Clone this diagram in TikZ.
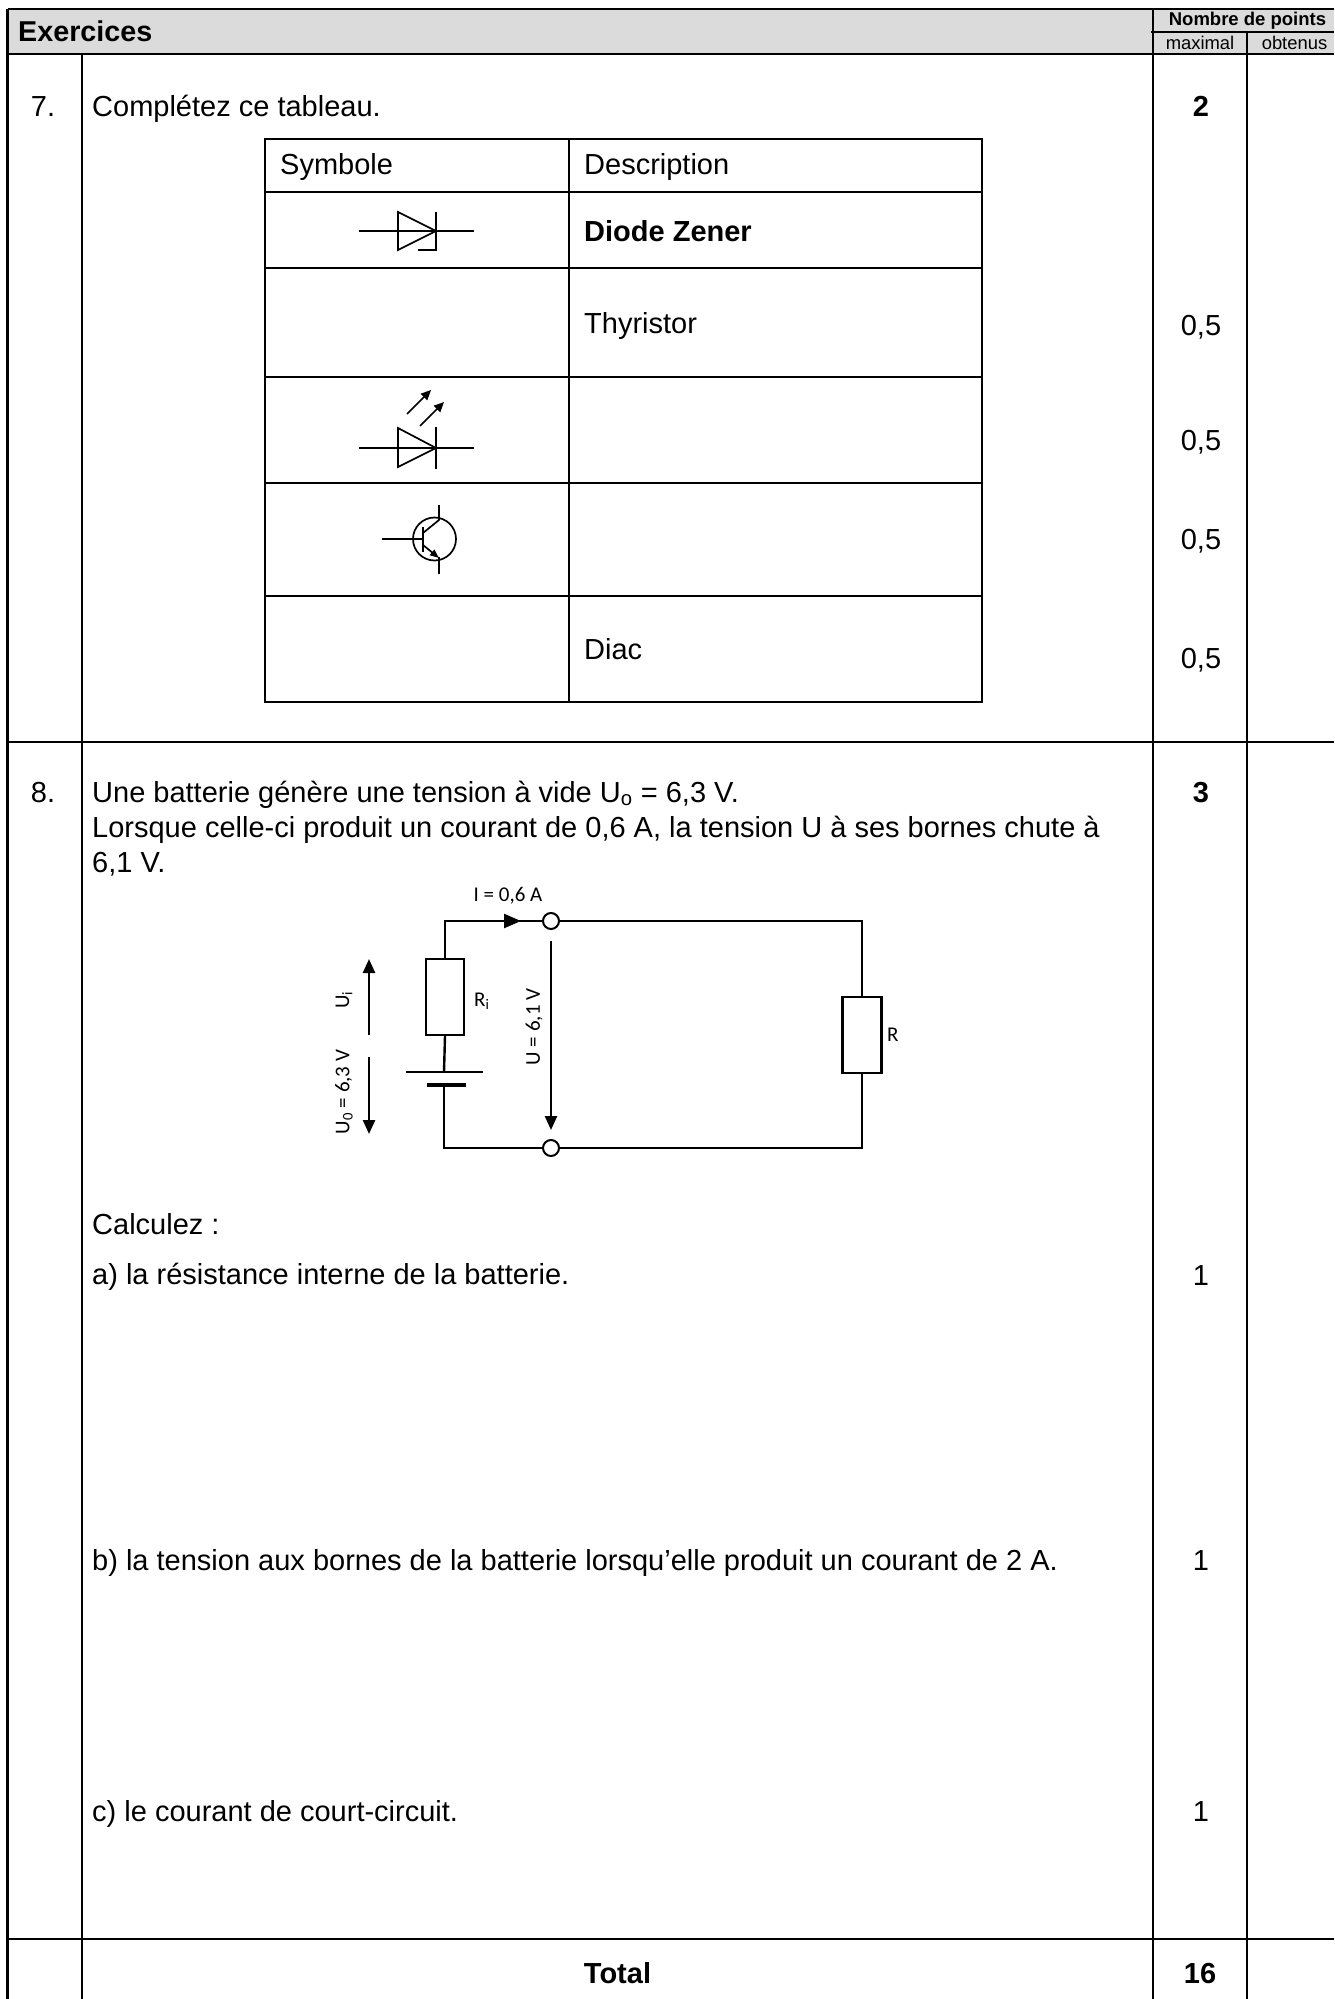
\documentclass[tikz,border=0pt]{standalone}
\usepackage{fontspec}
\setmainfont{Liberation Sans}
\newfontfamily\circfont{Carlito}
\usetikzlibrary{arrows.meta}
\begin{document}
\begin{tikzpicture}[x=1pt,y=-1pt,
  grid/.style={line width=2.6pt},
  tbl/.style={line width=2.3pt},
  sym/.style={line width=1.7pt},
  wire/.style={line width=2.4pt},
  txt/.style={font=\fontsize{29}{35}\selectfont, inner sep=0pt, anchor=base west},
  ctxt/.style={font=\fontsize{29}{35}\selectfont, inner sep=0pt, anchor=base},
  btxt/.style={font=\fontsize{29}{35}\selectfont\bfseries, inner sep=0pt, anchor=base},
  smalltxt/.style={font=\fontsize{18.4}{22}\selectfont, inner sep=0pt, anchor=base},
  ctext/.style={font=\circfont\fontsize{21}{25}\selectfont, inner sep=0pt},
  res/.style={draw, line width=2.4pt, fill=white, rectangle, inner sep=0pt},
  term/.style={draw, line width=2pt, fill=white, circle, minimum size=16pt, inner sep=0pt},
  bigarrow/.style={line width=2.4pt, -{Triangle[length=14pt,width=12pt]}},
  smallarrow/.style={line width=1.7pt, -{Triangle[length=10pt,width=9pt]}}
]
\useasboundingbox (0,0) rectangle (1334,1999);
% header
\fill[gray!28] (7.5,9) rectangle (1334,54);
\draw[grid] (7.5,9) -- (1334,9);
\draw[grid] (7.5,9) -- (7.5,1999);
\draw[grid] (82,54) -- (82,1999);
\draw[grid] (1153,9) -- (1153,1999);
\draw[grid] (1151,32) -- (1334,32);
\draw[grid] (1247,32) -- (1247,1999);
\draw[grid] (7.5,54) -- (1334,54);
\draw[grid] (7.5,742) -- (1334,742);
\draw[grid] (7.5,1939) -- (1334,1939);
\node[font=\fontsize{28.7}{34}\selectfont\bfseries, inner sep=0pt, anchor=base west] (hex) at (18,42) {Exercices};
\node[smalltxt, font=\fontsize{18.5}{22}\selectfont\bfseries] (hnp) at (1247.5,26) {Nombre de points};
\node[smalltxt] (hmax) at (1200,50) {maximal};
\node[smalltxt] (hobt) at (1294.5,50) {obtenus};

% exercise 7
\node[ctxt] (n7) at (43,117) {7.};
\node[txt] (q7) at (92,117) {Complétez ce tableau.};
\node[btxt] (p7) at (1201,117) {2};
\draw[tbl] (265,139) rectangle (982,702);
\draw[tbl] (569,139) -- (569,702);
\foreach \yy in {192,268,377,483,596} \draw[tbl] (265,\yy) -- (982,\yy);
\node[txt] (hsym) at (280,175) {Symbole};
\node[txt] (hdesc) at (584,175) {Description};
\node[txt, font=\fontsize{29}{35}\selectfont\bfseries] (dz) at (584,241) {Diode Zener};
\node[txt] (thy) at (584,333) {Thyristor};
\node[txt] (diac) at (584,659) {Diac};
\node[ctxt] (pa) at (1201,335) {0,5};
\node[ctxt] (pb) at (1201,450) {0,5};
\node[ctxt] (pc) at (1201,549) {0,5};
\node[ctxt] (pd) at (1201,668) {0,5};

% Zener symbol
\draw[sym] (359,231) -- (474,231);
\draw[sym] (398,212) -- (398,250) -- (436,231) -- cycle;
\draw[sym] (436,212) -- (436,250) -- (418,250);
% LED symbol
\draw[sym] (359,448) -- (474,448);
\draw[sym] (398,428) -- (398,467) -- (436,448) -- cycle;
\draw[sym] (436,427) -- (436,469);
\coordinate (la1) at (407,414); \coordinate (la2) at (431,390);
\coordinate (lb1) at (420,426); \coordinate (lb2) at (444,402);
\draw[smallarrow] (la1) -- (la2);
\draw[smallarrow] (lb1) -- (lb2);
% transistor
\node[draw, circle, line width=1.7pt, minimum size=43pt, inner sep=0pt] (tr) at (434.5,539) {};
\draw[sym] (382,539) -- (423,539);
\draw[sym] (423,527) -- (423,552);
\draw[sym] (423,533) -- (439,520) -- (439,505);
\draw[sym, -{Triangle[length=9pt,width=7pt]}] (423,545) -- (439,558);
\draw[sym] (439,557) -- (439,574);

% exercise 8
\node[ctxt] (n8) at (43,802) {8.};
\node[btxt] (p8) at (1201,802) {3};
\node[txt] (l1) at (92,802) {Une batterie génère une tension à vide U\textsubscript{o} = 6,3 V.};
\node[txt] (l2) at (92,837) {Lorsque celle-ci produit un courant de 0,6 A, la tension U à ses bornes chute à};
\node[txt] (l3) at (92,872) {6,1 V.};
\node[txt] (calc) at (92,1234) {Calculez :};
\node[txt] (qa) at (92,1284) {a) la résistance interne de la batterie.};
\node[ctxt] (pqa) at (1201,1285) {1};
\node[txt] (qb) at (92,1570) {b) la tension aux bornes de la batterie lorsqu’elle produit un courant de 2 A.};
\node[ctxt] (pqb) at (1201,1570) {1};
\node[txt] (qc) at (92,1821) {c) le courant de court-circuit.};
\node[ctxt] (pqc) at (1201,1821) {1};
\node[btxt] (tot) at (617.5,1983) {Total};
\node[btxt] (ptot) at (1200,1983) {16};

% circuit
\coordinate (ctl) at (444,921);
\coordinate (ctr) at (862,921);
\coordinate (cbl) at (444,1148);
\coordinate (cbr) at (862,1148);
\coordinate (bl1) at (406,1072); \coordinate (bl2) at (483,1072);
\coordinate (bs1) at (427,1085); \coordinate (bs2) at (466,1085);
\coordinate (bltop) at (444,1072); \coordinate (bsbot) at (444,1085);
\node[res, minimum width=38pt, minimum height=76pt] (ri) at (445,997) {};
\node[res, minimum width=39pt, minimum height=76pt] (rl) at (862,1035) {};
\draw[wire] (ri.north) |- (ctl) -- (ctr) -- (rl.north);
\draw[wire] (rl.south) |- (cbr) -- (cbl) -- (bsbot);
\draw[wire] (ri.south) -- (bltop);
\draw[wire] (bl1) -- (bl2);
\draw[line width=4.5pt] (bs1) -- (bs2);
\node[term] (t1) at (551,921) {};
\node[term] (t2) at (551,1148) {};
\coordinate (ia) at (495,921); \coordinate (ib) at (521,921);
\draw[line width=2.4pt, -{Triangle[length=17pt,width=14pt]}] (ia) -- (ib);
\coordinate (ui1) at (369,1035); \coordinate (ui2) at (369,959);
\coordinate (uo1) at (369,1057); \coordinate (uo2) at (369,1134);
\coordinate (uu1) at (551,941); \coordinate (uu2) at (551,1130);
\draw[bigarrow] (ui1) -- (ui2);
\draw[bigarrow] (uo1) -- (uo2);
\draw[bigarrow] (uu1) -- (uu2);
\node[ctext] (li) at (508,896) {I = 0,6 A};
\node[ctext, anchor=west] (lri) at (474,1001) {R\textsubscript{i}};
\node[ctext, anchor=west] (lr) at (887,1035) {R};
\node[ctext, rotate=90] (lui) at (344,1000) {U\textsubscript{i}};
\node[ctext, rotate=90] (luo) at (344,1092) {U\textsubscript{0} = 6,3 V};
\node[ctext, rotate=90] (lu) at (534,1027) {U = 6,1 V};
\end{tikzpicture}
\end{document}
